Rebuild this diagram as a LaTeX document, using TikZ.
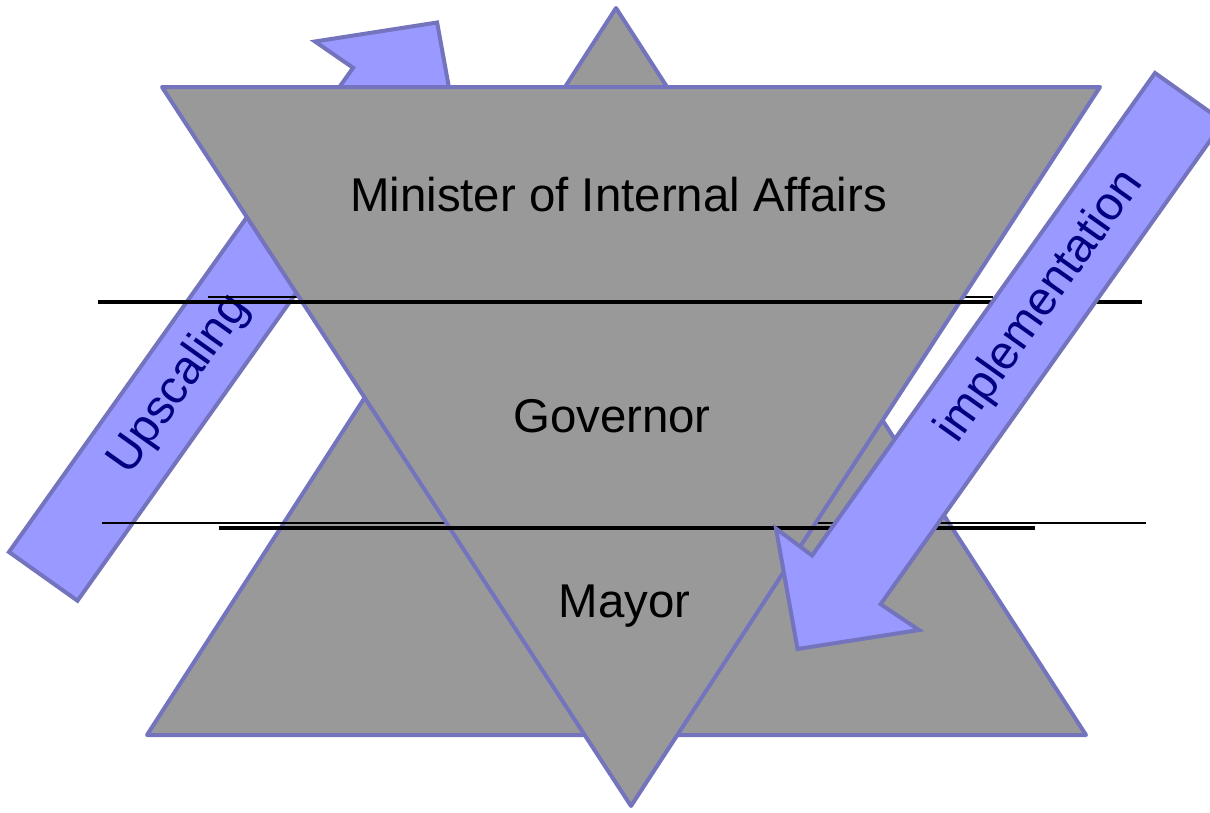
\documentclass[tikz,border=0pt]{standalone}
\usepackage{fontspec}
\setmainfont{Liberation Sans}
\definecolor{shapegray}{HTML}{999999}
\definecolor{edgeblue}{HTML}{7373BE}
\definecolor{arrowfill}{HTML}{9999FF}
\definecolor{labelnavy}{HTML}{000080}
\begin{document}
\begin{tikzpicture}[x=1pt,y=-1pt,
  tri/.style={fill=shapegray, draw=edgeblue, line width=4pt, line join=round},
  blockarrow/.style={fill=arrowfill, draw=edgeblue, line width=4pt, line join=miter},
  frontline/.style={draw=black, line width=3.4pt},
  backline/.style={draw=black, line width=2.8pt},
  leveltext/.style={font=\fontsize{47.4}{56}\selectfont, text=black, inner sep=0pt, anchor=base},
  arrowtext/.style={font=\fontsize{47.4}{56}\selectfont, text=labelnavy, inner sep=0pt, rotate=54.6}]
\useasboundingbox (0,0) rectangle (1210,812);
\fill[white] (0,0) rectangle (1210,812);
\clip (0,0) rectangle (1210,812);

% upward triangle
\coordinate (upTop) at (616,8);
\coordinate (upL) at (147,735);
\coordinate (upR) at (1086,735);
% downward triangle
\coordinate (dnL) at (162,87);
\coordinate (dnR) at (1100,87);
\coordinate (dnBot) at (631,806);
% upscaling arrow
\coordinate (usB1) at (9,552);
\coordinate (usB2) at (77.5,600.7);
\coordinate (usN1) at (353.1,67.8);
\coordinate (usN2) at (421.6,116.5);
\coordinate (usW1) at (315.0,41.5);
\coordinate (usW2) at (459.1,143.1);
\coordinate (usTip) at (437.1,22.5);
% implementation arrow
\coordinate (imT1) at (1155,73);
\coordinate (imT2) at (1223.5,121.7);
\coordinate (imN1) at (812.1,555.5);
\coordinate (imN2) at (880.6,604.2);
\coordinate (imW1) at (776.0,528.6);
\coordinate (imW2) at (919.0,630.0);
\coordinate (imTip) at (797.5,649.0);
% level lines
\coordinate (l1a) at (98,302);   \coordinate (l1b) at (1142,302);
\coordinate (l2a) at (208,297);  \coordinate (l2b) at (993,297);
\coordinate (lAa) at (102,523);  \coordinate (lAb) at (1146,523);
\coordinate (lBa) at (219,528);  \coordinate (lBb) at (1035,528);

\path[tri] (upTop) -- (upR) -- (upL) -- cycle;

\path[blockarrow] (usB1) -- (usN1) -- (usW1) -- (usTip) -- (usW2) -- (usN2) -- (usB2) -- cycle;
\node[arrowtext] (upscaling) at (179.3,384.8) {Upscaling};

\draw[backline] (l2a) -- (l2b);
\draw[backline] (lAa) -- (lAb);

\path[tri] (dnL) -- (dnR) -- (dnBot) -- cycle;

\node[leveltext] (minister) at (618.5,211.5) {Minister of Internal Affairs};
\node[leveltext] (governor) at (612,432.5) {Governor};
\node[leveltext] (mayor) at (624.7,617.5) {Mayor};

\draw[frontline] (l1a) -- (l1b);
\draw[frontline] (lBa) -- (lBb);

\path[blockarrow] (imT1) -- (imN1) -- (imW1) -- (imTip) -- (imW2) -- (imN2) -- (imT2) -- cycle;
\node[arrowtext] (implementation) at (1040.3,306.8) {implementation};
\end{tikzpicture}
\end{document}
